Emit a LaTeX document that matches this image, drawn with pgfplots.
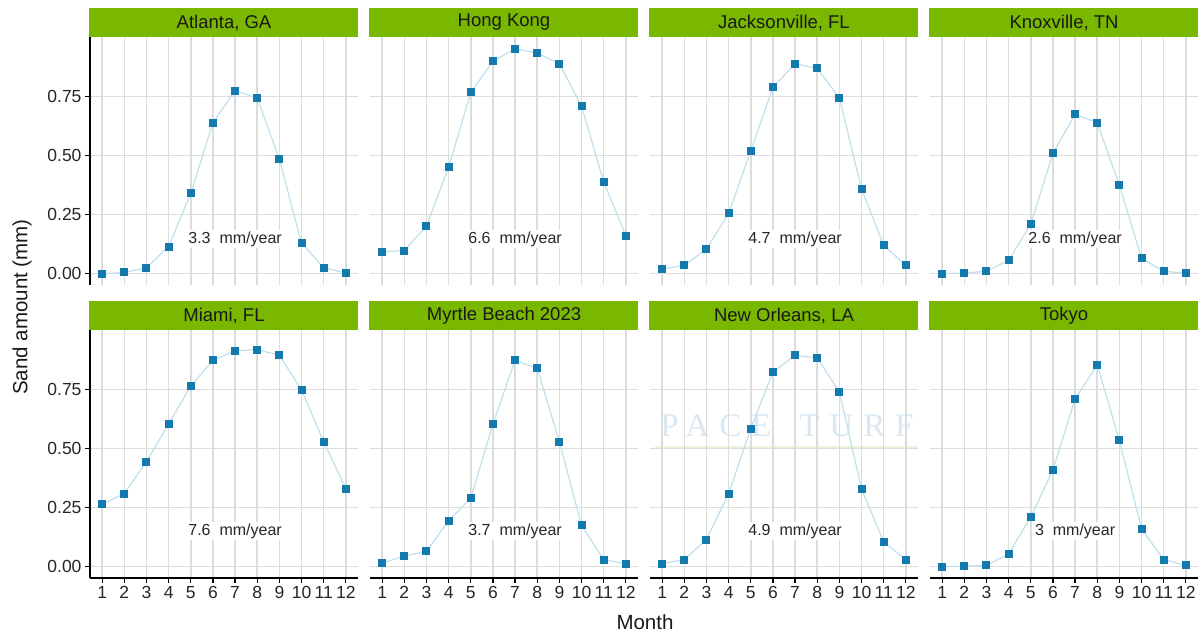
\documentclass[border=0pt]{standalone}
\usepackage{fontspec}
\setmainfont{Liberation Sans}
\newfontfamily\wmfont[LetterSpace=30]{Liberation Serif}
\usepackage{pgfplots}
\pgfplotsset{compat=1.18}
\definecolor{stripgreen}{RGB}{122,184,0}
\definecolor{pointblue}{RGB}{18,122,172}
\definecolor{lineblue}{RGB}{192,223,236}
\definecolor{gridgray}{RGB}{220,220,220}
\definecolor{wmblue}{RGB}{218,232,242}
\definecolor{wmgreen}{RGB}{234,242,220}
\newcommand{\ticksize}{\fontsize{17.5}{18}\selectfont}
\newcommand{\stripsize}{\fontsize{18.5}{20}\selectfont}
\newcommand{\labsize}{\fontsize{20.5}{22}\selectfont}
\newcommand{\annsize}{\fontsize{16}{18}\selectfont}
\tikzset{ann/.style={fill=white, inner sep=1.5pt, font=\annsize, text=black!85}}
\pgfplotsset{
  panel/.style={
    scale only axis, width=268pt, height=248pt, anchor=south west,
    xmin=0.45, xmax=12.55, ymin=-0.048, ymax=1.003,
    xtick={1,2,3,4,5,6,7,8,9,10,11,12},
    xticklabels={1,2,3,4,5,6,7,8,9,10,11,12},
    ytick={0,0.25,0.5,0.75},
    yticklabels={0.00,0.25,0.50,0.75},
    axis x line*=bottom, axis y line*=left,
    grid=major, grid style={gridgray, line width=1.6pt},
    tick align=outside, major tick length=5pt,
    tick style={black, line width=1.2pt},
    axis line style={black, line width=1.5pt},
    ticklabel style={font=\ticksize, text=black!85},
    xticklabel style={inner xsep=0pt},
  },
  noxticks/.style={x axis line style={draw=none}, xticklabels={}, xtick style={draw=none}},
  noyticks/.style={y axis line style={draw=none}, yticklabels={}, ytick style={draw=none}},
  series/.style={lineblue, line width=1.2pt, mark=square*, mark size=3.4pt,
    mark options={fill=pointblue, draw=pointblue, solid}},
}
\begin{document}
\begin{tikzpicture}[x=1pt, y=1pt]
\useasboundingbox (0,0) rectangle (1202,634);
% ---------- top row ----------
\begin{axis}[panel, noxticks, at={(90pt,349pt)}]
\node[ann] at (axis cs:7,0.145) {3.3\ \ mm/year};
\addplot[series] coordinates {(1,0.000) (2,0.005) (3,0.025) (4,0.115) (5,0.340) (6,0.640) (7,0.775) (8,0.745) (9,0.485) (10,0.130) (11,0.025) (12,0.003)};
\end{axis}
\begin{axis}[panel, noxticks, noyticks, at={(370pt,349pt)}]
\node[ann] at (axis cs:7,0.145) {6.6\ \ mm/year};
\addplot[series] coordinates {(1,0.093) (2,0.098) (3,0.202) (4,0.452) (5,0.768) (6,0.900) (7,0.953) (8,0.935) (9,0.890) (10,0.710) (11,0.390) (12,0.160)};
\end{axis}
\begin{axis}[panel, noxticks, noyticks, at={(650pt,349pt)}]
\node[ann] at (axis cs:7,0.145) {4.7\ \ mm/year};
\addplot[series] coordinates {(1,0.020) (2,0.035) (3,0.105) (4,0.255) (5,0.520) (6,0.790) (7,0.890) (8,0.870) (9,0.745) (10,0.360) (11,0.120) (12,0.035)};
\end{axis}
\begin{axis}[panel, noxticks, noyticks, at={(930pt,349pt)}]
\node[ann] at (axis cs:7,0.145) {2.6\ \ mm/year};
\addplot[series] coordinates {(1,0.000) (2,0.003) (3,0.010) (4,0.057) (5,0.210) (6,0.510) (7,0.675) (8,0.640) (9,0.375) (10,0.065) (11,0.010) (12,0.002)};
\end{axis}
% ---------- bottom row ----------
\begin{axis}[panel, at={(90pt,56pt)}]
\node[ann] at (axis cs:7,0.15) {7.6\ \ mm/year};
\addplot[series] coordinates {(1,0.265) (2,0.310) (3,0.445) (4,0.605) (5,0.765) (6,0.875) (7,0.915) (8,0.920) (9,0.895) (10,0.750) (11,0.530) (12,0.330)};
\end{axis}
\begin{axis}[panel, noyticks, at={(370pt,56pt)}]
\node[ann] at (axis cs:7,0.15) {3.7\ \ mm/year};
\addplot[series] coordinates {(1,0.015) (2,0.045) (3,0.065) (4,0.195) (5,0.290) (6,0.605) (7,0.875) (8,0.840) (9,0.530) (10,0.175) (11,0.030) (12,0.012)};
\end{axis}
% watermark
\node[text=wmblue, font=\wmfont\fontsize{33}{36}\selectfont] at (787,208) {PACE\hspace{28pt}TURF};
\fill[wmgreen] (655,186) rectangle (918,187.5);
\begin{axis}[panel, noyticks, at={(650pt,56pt)}]
\node[ann] at (axis cs:7,0.15) {4.9\ \ mm/year};
\addplot[series] coordinates {(1,0.013) (2,0.030) (3,0.115) (4,0.310) (5,0.585) (6,0.825) (7,0.895) (8,0.885) (9,0.740) (10,0.330) (11,0.105) (12,0.030)};
\end{axis}
\begin{axis}[panel, noyticks, at={(930pt,56pt)}]
\node[ann] at (axis cs:7,0.15) {3\ \ mm/year};
\addplot[series] coordinates {(1,0.000) (2,0.002) (3,0.005) (4,0.055) (5,0.210) (6,0.410) (7,0.710) (8,0.855) (9,0.535) (10,0.160) (11,0.030) (12,0.005)};
\end{axis}
% ---------- strips ----------
\foreach \x/\t in {90/{Atlanta, GA}, 370/{Hong Kong}, 650/{Jacksonville, FL}, 930/{Knoxville, TN}} {
  \fill[stripgreen] (\x-1,597) rectangle (\x+268,626);
  \node[font=\stripsize, text=black!90] at (\x+134,611.5) {\t};
}
\foreach \x/\t in {90/{Miami, FL}, 370/{Myrtle Beach 2023}, 650/{New Orleans, LA}, 930/{Tokyo}} {
  \fill[stripgreen] (\x-1,304) rectangle (\x+268,333);
  \node[font=\stripsize, text=black!90] at (\x+134,318.5) {\t};
}
% ---------- axis titles ----------
\node[rotate=90, font=\labsize, text=black!90] at (22,327) {Sand amount (mm)};
\node[font=\labsize, text=black!90] at (645,12) {Month};
\end{tikzpicture}
\end{document}
